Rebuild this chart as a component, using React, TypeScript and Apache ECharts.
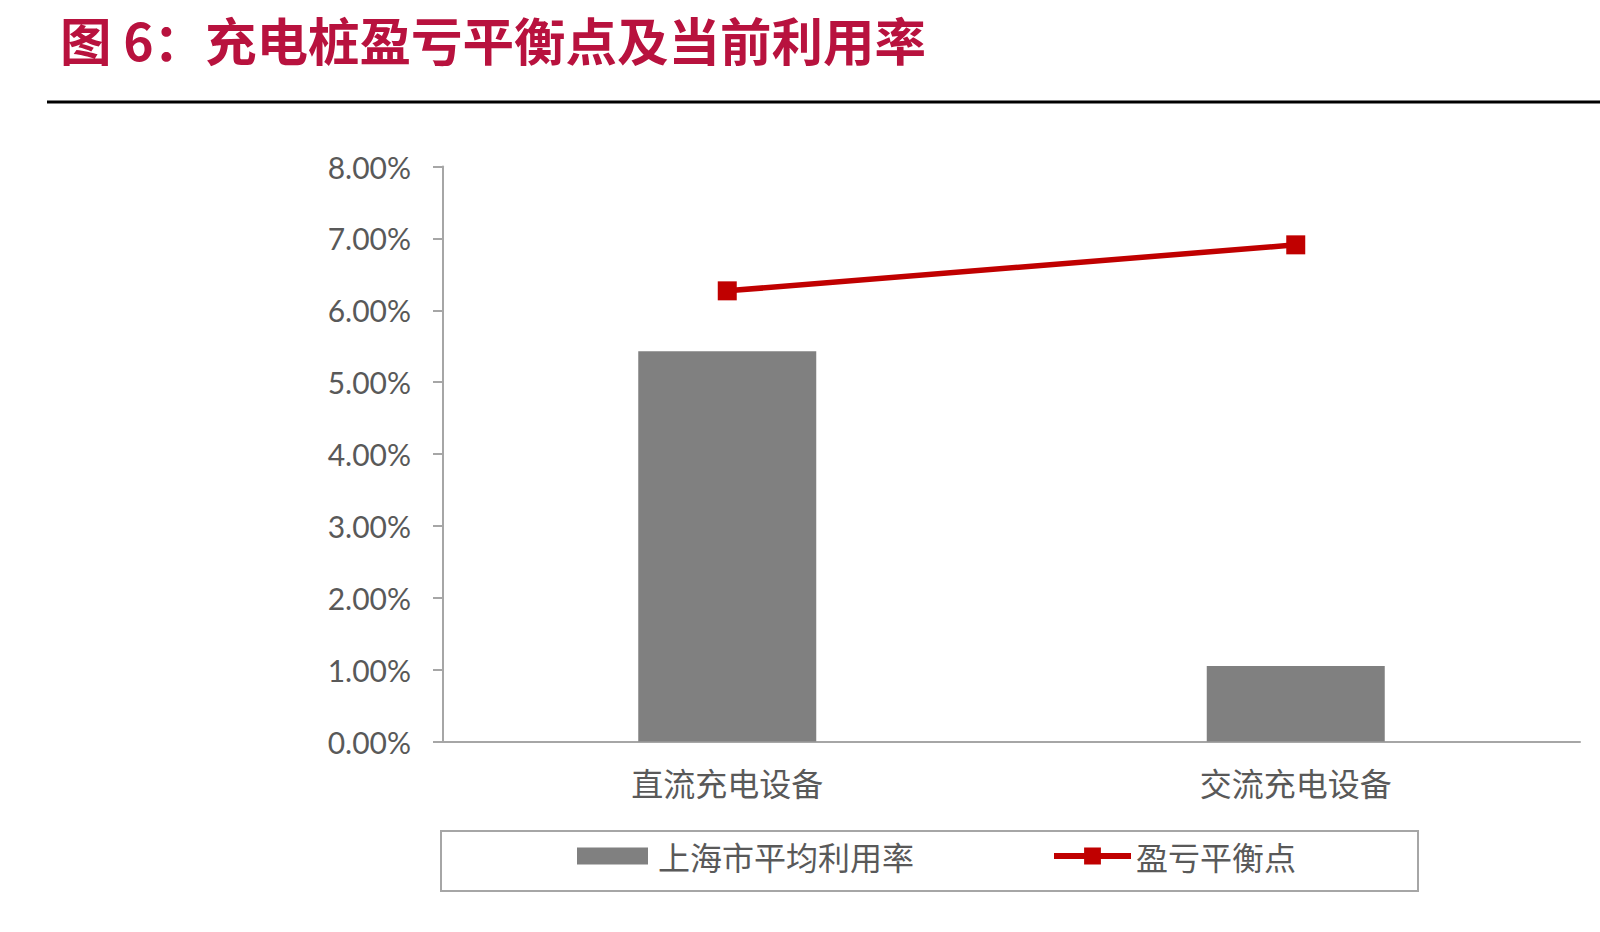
import React, { useRef, useEffect } from 'react';
import * as echarts from 'echarts';

const categories = ['直流充电设备', '交流充电设备'];
const avgUtilization = [0.0543, 0.0105];
const breakEven = [0.0627, 0.0691];
const yTicks = [0, 0.01, 0.02, 0.03, 0.04, 0.05, 0.06, 0.07, 0.08];

const App = () => {
  const chartRef = useRef(null);

  useEffect(() => {
    document.body.style.margin = '0';
    const myChart = echarts.init(chartRef.current, null, { renderer: 'svg' });

    const cjk = '"Noto Sans CJK SC", sans-serif';

    const option = {
      animation: false,
      backgroundColor: '#ffffff',
      title: {
        text: '图 6：充电桩盈亏平衡点及当前利用率',
        left: 60,
        top: 11,
        padding: 0,
        textStyle: {
          color: '#b8123e',
          fontSize: 51.5,
          lineHeight: 54,
          fontWeight: 'bold',
          fontFamily: cjk,
        },
      },
      graphic: [
        {
          type: 'line',
          shape: { x1: 47, y1: 102, x2: 1600, y2: 102 },
          style: { stroke: '#000000', lineWidth: 3 },
        },
        {
          type: 'rect',
          shape: { x: 441, y: 831, width: 977, height: 60 },
          style: { fill: 'none', stroke: '#a6a6a6', lineWidth: 2 },
        },
      ],
      grid: { left: 443, right: 20, top: 166.5, bottom: 190.5 },
      legend: [
        {
          data: [{ name: '上海市平均利用率', icon: 'rect' }],
          left: 572,
          top: 835,
          itemWidth: 71,
          itemHeight: 17,
          itemStyle: { color: '#808080' },
          textStyle: { color: '#595959', fontSize: 32, fontFamily: cjk, padding: [0, 0, 0, 5] },
        },
        {
          data: ['盈亏平衡点'],
          left: 1046,
          top: 835,
          itemWidth: 77,
          itemHeight: 21,
          lineStyle: { width: 6 },
          textStyle: { color: '#595959', fontSize: 32, fontFamily: cjk },
        },
      ],
      xAxis: {
        type: 'category',
        data: categories,
        axisLine: { lineStyle: { color: '#a6a6a6', width: 2 } },
        axisTick: { show: false },
        axisLabel: { color: '#595959', fontSize: 32, margin: 24, fontFamily: cjk },
      },
      yAxis: {
        type: 'value',
        min: yTicks[0],
        max: yTicks[yTicks.length - 1],
        interval: 0.01,
        splitLine: { show: false },
        axisLine: { show: true, lineStyle: { color: '#a6a6a6', width: 2 } },
        axisTick: { show: true, inside: false, length: 10, lineStyle: { color: '#a6a6a6', width: 2 } },
        axisLabel: {
          color: '#595959',
          fontSize: 30,
          margin: 32,
          fontFamily: 'Lato, "Liberation Sans", sans-serif',
          formatter: (v: number) => (v * 100).toFixed(2) + '%',
        },
      },
      series: [
        {
          name: '上海市平均利用率',
          type: 'bar',
          data: avgUtilization,
          barWidth: 178,
          itemStyle: { color: '#808080' },
        },
        {
          name: '盈亏平衡点',
          type: 'line',
          data: breakEven,
          symbol: 'rect',
          symbolSize: 19,
          itemStyle: { color: '#c00000' },
          lineStyle: { color: '#c00000', width: 5.5 },
        },
      ],
    };

    myChart.setOption(option);

    return () => {
      myChart.dispose();
    };
  }, []);

  return <div ref={chartRef} style={{ width: '1600px', height: '932px' }} />;
};

export default App;
